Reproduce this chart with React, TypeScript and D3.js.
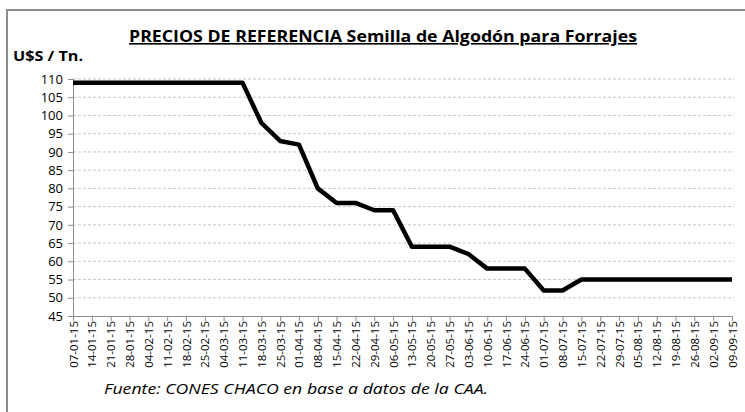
import React, { useEffect, useRef } from 'react';
import * as d3 from 'd3';

const dates = [
  '07-01-15', '14-01-15', '21-01-15', '28-01-15',
  '04-02-15', '11-02-15', '18-02-15', '25-02-15',
  '04-03-15', '11-03-15', '18-03-15', '25-03-15',
  '01-04-15', '08-04-15', '15-04-15', '22-04-15', '29-04-15',
  '06-05-15', '13-05-15', '20-05-15', '27-05-15',
  '03-06-15', '10-06-15', '17-06-15', '24-06-15',
  '01-07-15', '08-07-15', '15-07-15', '22-07-15', '29-07-15',
  '05-08-15', '12-08-15', '19-08-15', '26-08-15',
  '02-09-15', '09-09-15',
];

const prices = [
  109, 109, 109, 109,
  109, 109, 109, 109,
  109, 109, 98, 93,
  92, 80, 76, 76, 74,
  74, 64, 64, 64,
  62, 58, 58, 58,
  52, 52, 55, 55, 55,
  55, 55, 55, 55,
  55, 55,
];

const yTicks = [45, 50, 55, 60, 65, 70, 75, 80, 85, 90, 95, 100, 105, 110];

const W = 745;
const H = 412;

const App = () => {
  const ref = useRef<SVGSVGElement>(null);

  useEffect(() => {
    const svg = d3.select(ref.current);
    svg.selectAll('*').remove();

    const left = 73, right = 732, top = 79, bottom = 316;

    const x = d3.scalePoint<string>().domain(dates).range([left, right]);
    const y = d3.scaleLinear().domain([45, 110]).range([bottom, top]);

    // outer frame
    svg.append('rect')
      .attr('x', 7).attr('y', 10)
      .attr('width', W).attr('height', H)
      .attr('fill', 'white')
      .attr('stroke', '#8c8c8c')
      .attr('stroke-width', 2);

    // gridlines
    svg.append('g')
      .selectAll('line')
      .data(yTicks.filter((t) => t !== 45))
      .enter()
      .append('line')
      .attr('x1', left).attr('x2', right + 2)
      .attr('y1', (d) => y(d)).attr('y2', (d) => y(d))
      .attr('stroke', '#c8c8c8')
      .attr('stroke-width', 1)
      .attr('stroke-dasharray', '3,2');

    // y axis
    const yAxis = svg.append('g')
      .attr('transform', `translate(${left},0)`)
      .call(d3.axisLeft(y).tickValues(yTicks).tickSize(5).tickPadding(5));
    yAxis.select('.domain').attr('stroke', '#8c8c8c');
    yAxis.selectAll('.tick line').attr('stroke', '#8c8c8c');
    yAxis.selectAll('.tick text')
      .attr('font-family', 'Open Sans, sans-serif')
      .attr('font-size', 13)
      .attr('fill', '#000');

    // x axis
    const xAxis = svg.append('g')
      .attr('transform', `translate(0,${bottom})`)
      .call(d3.axisBottom(x).tickSize(5).tickSizeOuter(0));
    xAxis.select('.domain').attr('stroke', '#8c8c8c');
    xAxis.selectAll('.tick line').attr('stroke', '#8c8c8c');
    xAxis.selectAll('.tick text')
      .attr('font-family', 'Open Sans, sans-serif')
      .attr('font-size', 11.5)
      .attr('fill', '#000')
      .attr('transform', 'rotate(-90)')
      .attr('text-anchor', 'end')
      .attr('x', -5)
      .attr('y', 0)
      .attr('dy', '0.35em');

    // price line
    const line = d3.line<number>()
      .x((_, i) => x(dates[i]) as number)
      .y((d) => y(d));
    svg.append('path')
      .datum(prices)
      .attr('d', line)
      .attr('fill', 'none')
      .attr('stroke', '#000')
      .attr('stroke-width', 4.5)
      .attr('stroke-linejoin', 'round');

    // title
    svg.append('text')
      .attr('x', 129).attr('y', 42)
      .attr('font-family', 'Open Sans, sans-serif')
      .attr('font-weight', 'bold')
      .attr('font-size', 16)
      .attr('text-decoration', 'underline')
      .attr('textLength', 508)
      .attr('lengthAdjust', 'spacingAndGlyphs')
      .text('PRECIOS DE REFERENCIA Semilla de Algodón para Forrajes');

    svg.append('text')
      .attr('x', 13).attr('y', 61)
      .attr('font-family', 'Open Sans, sans-serif')
      .attr('font-weight', 'bold')
      .attr('font-size', 14)
      .attr('textLength', 70)
      .attr('lengthAdjust', 'spacingAndGlyphs')
      .text('U$S / Tn.');

    svg.append('text')
      .attr('x', 104).attr('y', 394)
      .attr('font-family', 'Open Sans, sans-serif')
      .attr('font-style', 'italic')
      .attr('font-size', 14)
      .attr('textLength', 384)
      .attr('lengthAdjust', 'spacingAndGlyphs')
      .text('Fuente: CONES CHACO en base a datos de la CAA.');
  }, []);

  return (
    <svg
      ref={ref}
      width={W}
      height={H}
      style={{ position: 'absolute', left: 0, top: 0, background: 'white' }}
    />
  );
};

export default App;
